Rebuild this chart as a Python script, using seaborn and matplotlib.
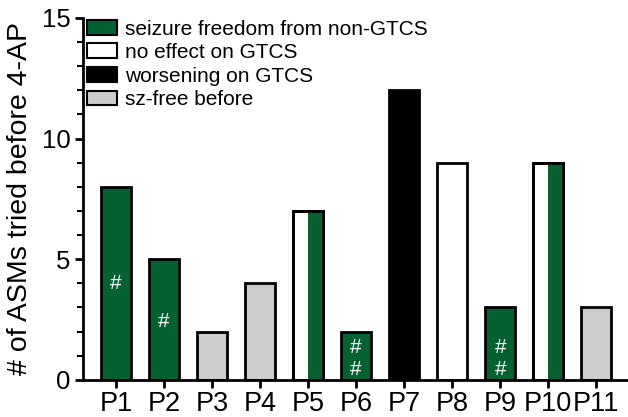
import pandas as pd
import matplotlib
matplotlib.use("Agg")
import matplotlib.pyplot as plt
import seaborn as sns
from matplotlib.patches import Patch

# data
patients = ["P1", "P2", "P3", "P4", "P5", "P6", "P7", "P8", "P9", "P10", "P11"]
asms_tried = [8, 5, 2, 4, 7, 2, 12, 9, 3, 9, 3]
groups = ["sz", "sz", "before", "before", "none", "sz", "worse", "none", "sz", "none", "before"]
split_bars = ["P5", "P10"]  # half no effect / half seizure freedom
hash_marks = {"P1": [4.0], "P2": [2.4], "P6": [1.35, 0.45], "P9": [1.35, 0.45]}

labels = {
    "sz": "seizure freedom from non-GTCS",
    "none": "no effect on GTCS",
    "worse": "worsening on GTCS",
    "before": "sz-free before",
}
colors = {"sz": "#03622f", "none": "#ffffff", "worse": "#000000", "before": "#cccccc"}

df = pd.DataFrame({"patient": patients, "n": asms_tried, "group": groups})

sns.set_style("ticks")
plt.rcParams["font.family"] = ["Liberation Sans", "DejaVu Sans"]
plt.rcParams.update({"text.color": "black", "axes.labelcolor": "black",
                     "xtick.color": "black", "ytick.color": "black",
                     "axes.edgecolor": "black"})

fig = plt.figure(figsize=(6.28, 4.17), dpi=100)
ax = fig.add_axes([0.132, 0.089, 0.868, 0.868])

width = 0.62
sns.barplot(data=df, x="patient", y="n", hue="group", palette=colors, dodge=False,
            saturation=1, width=width, edgecolor="black", linewidth=2, legend=False, ax=ax)

# green right half for split bars
for i, p in enumerate(patients):
    if p in split_bars:
        ax.bar(i + width / 4, asms_tried[i], width=width / 2, color=colors["sz"],
               edgecolor="none", zorder=3)
        ax.bar(i, asms_tried[i], width=width, facecolor="none", edgecolor="black",
               linewidth=2, zorder=4)

# "#" markers
for p, ys in hash_marks.items():
    i = patients.index(p)
    for y in ys:
        ax.text(i, y, "#", color="white", ha="center", va="center", fontsize=15, zorder=5)

ax.set_xlim(-0.69, 10.66)
ax.set_ylim(0, 15)
ax.set_yticks([0, 5, 10, 15])
ax.set_yticks(range(16), minor=True)
ax.tick_params(axis="y", which="major", labelsize=18.5, length=6, width=2, pad=3)
ax.tick_params(axis="y", which="minor", length=4, width=1.5)
ax.tick_params(axis="x", labelsize=19.5, length=6, width=2, pad=2)
ax.set_xlabel("")
ax.set_ylabel("# of ASMs tried before 4-AP", fontsize=20.5, labelpad=6)
for s in ["left", "bottom"]:
    ax.spines[s].set_linewidth(2)
sns.despine(ax=ax)

handles = [Patch(facecolor=colors[g], edgecolor="black", linewidth=1.5, label=labels[g])
           for g in ["sz", "none", "worse", "before"]]
ax.legend(handles=handles, loc="upper left", bbox_to_anchor=(-0.0156, 1.03), frameon=False,
          fontsize=15, handlelength=1.44, handleheight=0.72, handletextpad=0.38,
          labelspacing=0.22, borderaxespad=0.2)

fig.savefig("out.png", dpi=100)
